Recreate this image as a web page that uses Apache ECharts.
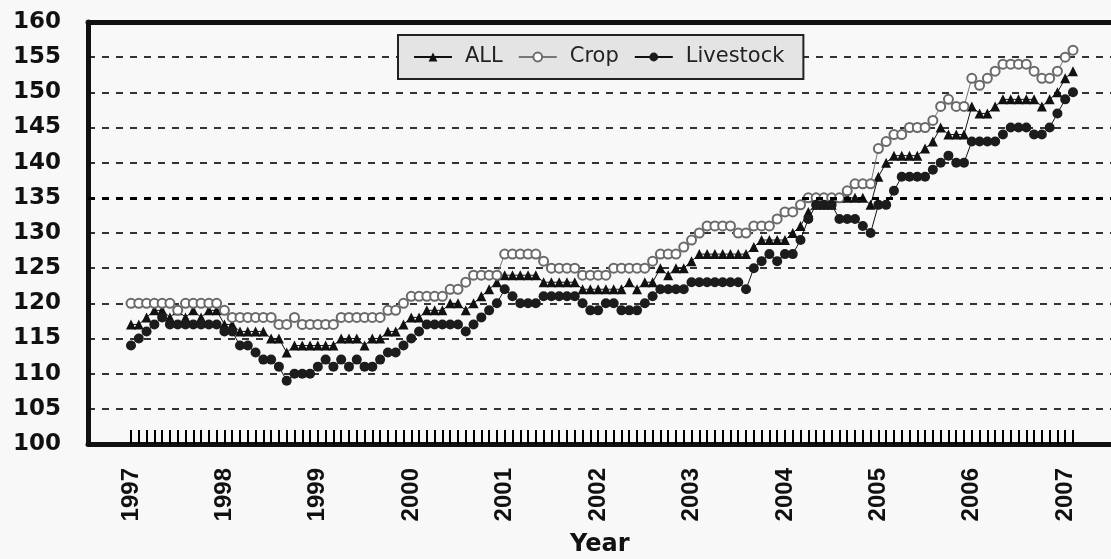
<!DOCTYPE html>
<html>
<head>
<meta charset="utf-8">
<script src="https://cdn.jsdelivr.net/npm/echarts@6/dist/echarts.min.js"></script>
<style>
html,body{margin:0;padding:0;background:#f8f8f8;}
#c{width:1111px;height:559px;}
</style>
</head>
<body>
<div id="c"></div>
<script>
// Year tick labels (one label every 12 monthly ticks, Jan 1997 .. Feb 2007)
const yearLabels = ['1997','1998','1999','2000','2001','2002','2003','2004','2005','2006','2007'];
const seriesNames = ['ALL', 'Crop', 'Livestock'];

// Monthly index values, Jan 1997 .. Feb 2007 (122 months)
const allIndex = [
  117,117,118,119,119,118,119,118,119,118,119,119,
  117,117,116,116,116,116,115,115,113,114,114,114,
  114,114,114,115,115,115,114,115,115,116,116,117,
  118,118,119,119,119,120,120,119,120,121,122,123,
  124,124,124,124,124,123,123,123,123,123,122,122,
  122,122,122,122,123,122,123,123,125,124,125,125,
  126,127,127,127,127,127,127,127,128,129,129,129,
  129,130,131,133,134,134,134,135,135,135,135,134,
  138,140,141,141,141,141,142,143,145,144,144,144,
  148,147,147,148,149,149,149,149,149,148,149,150,
  152,153
];
const crop = [
  120,120,120,120,120,120,119,120,120,120,120,120,
  119,118,118,118,118,118,118,117,117,118,117,117,
  117,117,117,118,118,118,118,118,118,119,119,120,
  121,121,121,121,121,122,122,123,124,124,124,124,
  127,127,127,127,127,126,125,125,125,125,124,124,
  124,124,125,125,125,125,125,126,127,127,127,128,
  129,130,131,131,131,131,130,130,131,131,131,132,
  133,133,134,135,135,135,135,135,136,137,137,137,
  142,143,144,144,145,145,145,146,148,149,148,148,
  152,151,152,153,154,154,154,154,153,152,152,153,
  155,156
];
const livestock = [
  114,115,116,117,118,117,117,117,117,117,117,117,
  116,116,114,114,113,112,112,111,109,110,110,110,
  111,112,111,112,111,112,111,111,112,113,113,114,
  115,116,117,117,117,117,117,116,117,118,119,120,
  122,121,120,120,120,121,121,121,121,121,120,119,
  119,120,120,119,119,119,120,121,122,122,122,122,
  123,123,123,123,123,123,123,122,125,126,127,126,
  127,127,129,132,134,134,134,132,132,132,131,130,
  134,134,136,138,138,138,138,139,140,141,140,140,
  143,143,143,143,144,145,145,145,144,144,145,147,
  149,150
];

const toPts = arr => arr.map((v, i) => [i, v]);

const chart = echarts.init(document.getElementById('c'), null, {renderer: 'canvas'});

const frameLine = {show: true, onZero: false, lineStyle: {color: '#111', width: 5}};

const option = {
  backgroundColor: '#f8f8f8',
  animation: false,
  grid: [
    {left: 88, top: 22, right: -40, bottom: 115, outerBoundsMode: 'none', containLabel: false},
    {left: 131, top: 22, right: 38, bottom: 115, outerBoundsMode: 'none', containLabel: false}
  ],
  xAxis: [
    {type: 'value', gridIndex: 0, min: 0, max: 1, position: 'bottom',
     axisLine: frameLine, axisTick: {show: false}, axisLabel: {show: false}, splitLine: {show: false}},
    {
      type: 'value', gridIndex: 1, min: 0, max: 121, interval: 1,
      axisLine: {show: false},
      splitLine: {show: false},
      axisTick: {show: true, inside: true, length: 14, lineStyle: {color: '#000', width: 2}},
      axisLabel: {
        rotate: 90, margin: 24, interval: 0,
        formatter: v => (v % 12 === 0 ? (yearLabels[v / 12] || '') : ''),
        fontFamily: 'Liberation Sans', fontWeight: 'bold', fontSize: 24, color: '#111'
      }
    },
    {type: 'value', gridIndex: 0, min: 0, max: 1, position: 'top',
     axisLine: frameLine, axisTick: {show: false}, axisLabel: {show: false}, splitLine: {show: false}}
  ],
  yAxis: [
    {
      type: 'value', gridIndex: 0, min: 100, max: 160, interval: 5,
      axisLine: frameLine, axisTick: {show: false},
      axisLabel: {margin: 27, fontFamily: 'DejaVu Sans', fontWeight: 'bold', fontSize: 23, color: '#111'},
      splitLine: {show: true, lineStyle: {color: '#333', width: 2, type: [7, 7]}}
    },
    {type: 'value', gridIndex: 1, min: 100, max: 160, interval: 5, show: false}
  ],
  legend: {
    left: 398, top: 35,
    padding: [10, 19, 10, 15],
    itemGap: 15, itemWidth: 38, itemHeight: 11,
    backgroundColor: '#e4e4e4', borderColor: '#222', borderWidth: 2, borderRadius: 0,
    selectedMode: false,
    textStyle: {fontFamily: 'DejaVu Sans', fontSize: 21, color: '#222', padding: [0, 0, 0, 8], lineHeight: 24},
    data: seriesNames
  },
  graphic: [
    {type: 'text', left: 570, top: 533, style: {text: 'Year', font: 'bold 24px "DejaVu Sans"', fill: '#111'}}
  ],
  series: [
    {
      type: 'line', xAxisIndex: 0, yAxisIndex: 0, data: [], silent: true,
      markLine: {symbol: 'none', silent: true, label: {show: false},
        lineStyle: {color: '#000', width: 3, type: [7, 7]}, data: [{yAxis: 135}]}
    },
    {
      name: seriesNames[0], type: 'line', xAxisIndex: 1, yAxisIndex: 1, data: toPts(allIndex),
      symbol: 'triangle', symbolSize: 10, showAllSymbol: true, clip: false,
      lineStyle: {color: '#111', width: 1}, itemStyle: {color: '#111'}, emphasis: {disabled: true}
    },
    {
      name: seriesNames[1], type: 'line', xAxisIndex: 1, yAxisIndex: 1, data: toPts(crop),
      symbol: 'emptyCircle', symbolSize: 9, showAllSymbol: true, clip: false,
      lineStyle: {color: '#777', width: 1}, itemStyle: {color: '#6a6a6a', borderWidth: 1.5}, emphasis: {disabled: true}
    },
    {
      name: seriesNames[2], type: 'line', xAxisIndex: 1, yAxisIndex: 1, data: toPts(livestock),
      symbol: 'circle', symbolSize: 10, showAllSymbol: true, clip: false,
      lineStyle: {color: '#111', width: 1}, itemStyle: {color: '#1c1c1c'}, emphasis: {disabled: true}
    }
  ]
};
chart.setOption(option);
</script>
</body>
</html>
